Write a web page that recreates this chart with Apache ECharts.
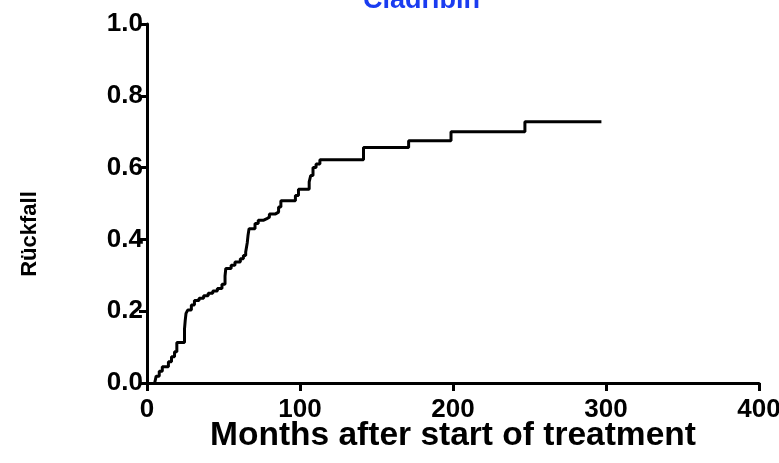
<!DOCTYPE html>
<html>
<head>
<meta charset="utf-8">
<script src="https://cdn.jsdelivr.net/npm/echarts@6/dist/echarts.min.js"></script>
<style>html,body{margin:0;padding:0;background:#fff}#c{width:779px;height:463px}</style>
</head>
<body>
<div id="c"></div>
<script>
var months = [5, 6, 8, 10, 14, 16, 18, 19.5, 24.5, 25, 25.5, 26.6, 29, 31, 34, 37, 40, 43, 46, 49, 51, 51.5, 55, 57.5, 61, 63, 64.5, 65.5, 66, 66.7, 70.6, 72.7, 76, 78, 80, 84, 86, 87.5, 97, 99, 106, 107, 108.5, 110.5, 113, 141.5, 171, 198.7, 247, 297];
var relapse = [0, 0.019, 0.033, 0.045, 0.059, 0.073, 0.087, 0.113, 0.15, 0.175, 0.194, 0.203, 0.217, 0.23, 0.236, 0.243, 0.25, 0.256, 0.263, 0.275, 0.298, 0.319, 0.328, 0.337, 0.346, 0.355, 0.365, 0.39, 0.41, 0.43, 0.444, 0.453, 0.457, 0.462, 0.471, 0.476, 0.49, 0.508, 0.522, 0.54, 0.56, 0.578, 0.6, 0.61, 0.622, 0.656, 0.675, 0.70, 0.728, 0.728];
var xTicks = [0, 100, 200, 300, 400];
var yTicks = [0, 0.2, 0.4, 0.6, 0.8, 1.0];

var data = months.map(function (m, i) { return [m, relapse[i]]; });
var chart = echarts.init(document.getElementById('c'), null, {renderer: 'canvas'});
var ff = 'Liberation Sans, Arial, sans-serif';
chart.setOption({
  animation: false,
  backgroundColor: '#fff',
  title: {
    text: 'Cladribin', left: 358, top: -18,
    textStyle: {color: '#1a3cf0', fontSize: 27, fontWeight: 'bold', fontFamily: ff}
  },
  graphic: [{
    type: 'text', x: 30, y: 234, rotation: Math.PI / 2,
    style: {text: 'Rückfall', fill: '#000', fontSize: 22, fontWeight: 'bold', fontFamily: ff,
      align: 'center', verticalAlign: 'middle'}
  }],
  grid: {left: 147, right: 20, top: 24, bottom: 80, containLabel: false, outerBoundsMode: 'none'},
  xAxis: {
    type: 'value', min: xTicks[0], max: xTicks[xTicks.length - 1], interval: 100,
    name: 'Months after start of treatment', nameLocation: 'middle', nameGap: 36, nameMoveOverlap: false,
    nameTextStyle: {color: '#000', fontSize: 33.5, fontWeight: 'bold', fontFamily: ff},
    axisLine: {lineStyle: {color: '#000', width: 3}},
    axisTick: {length: 8, lineStyle: {color: '#000', width: 3}},
    axisLabel: {color: '#000', fontSize: 26, fontWeight: 'bold', fontFamily: ff, margin: 14},
    splitLine: {show: false}
  },
  yAxis: {
    type: 'value', min: yTicks[0], max: yTicks[yTicks.length - 1], interval: 0.2,
    axisLine: {lineStyle: {color: '#000', width: 3}},
    axisTick: {length: 8, lineStyle: {color: '#000', width: 3}},
    axisLabel: {color: '#000', fontSize: 26, fontWeight: 'bold', fontFamily: ff, margin: 4,
      formatter: function (v) { return v.toFixed(1); }},
    splitLine: {show: false}
  },
  series: [{
    type: 'line', step: 'end', data: data, showSymbol: false, symbol: 'none',
    lineStyle: {color: '#000', width: 3}
  }]
});
</script>
</body>
</html>
